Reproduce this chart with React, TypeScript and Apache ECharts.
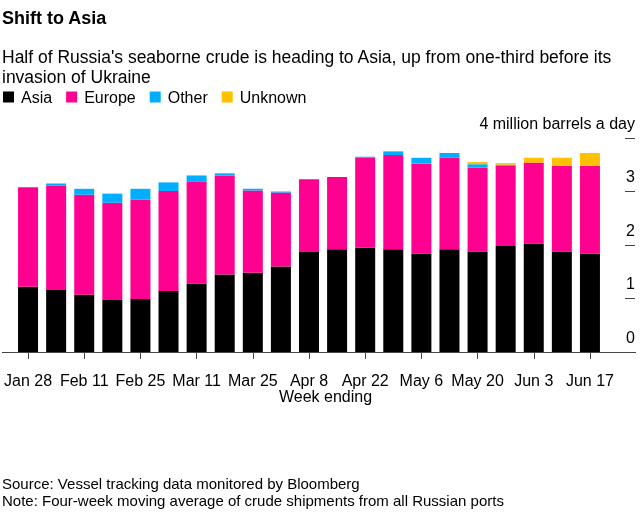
import React, { useEffect, useRef } from "react";
import * as echarts from "echarts";

const weeks = [
  "Jan 28", "Feb 4", "Feb 11", "Feb 18", "Feb 25", "Mar 4", "Mar 11", "Mar 18",
  "Mar 25", "Apr 1", "Apr 8", "Apr 15", "Apr 22", "Apr 29", "May 6", "May 13",
  "May 20", "May 27", "Jun 3", "Jun 10", "Jun 17",
];
const asia = [1.22, 1.16, 1.07, 0.97, 0.99, 1.14, 1.28, 1.45, 1.48, 1.6, 1.87, 1.92, 1.95, 1.92, 1.84, 1.92, 1.88, 1.98, 2.03, 1.88, 1.84];
const europe = [1.86, 1.95, 1.87, 1.82, 1.86, 1.87, 1.9, 1.85, 1.54, 1.38, 1.36, 1.35, 1.68, 1.76, 1.68, 1.71, 1.57, 1.5, 1.51, 1.6, 1.64];
const other = [0, 0.04, 0.11, 0.17, 0.2, 0.16, 0.12, 0.04, 0.03, 0.02, 0, 0, 0.02, 0.07, 0.11, 0.09, 0.06, 0.02, 0, 0, 0];
const unknown = [0, 0, 0, 0, 0, 0, 0, 0, 0, 0, 0, 0, 0, 0, 0, 0, 0.04, 0.03, 0.09, 0.15, 0.24];
const yUnitLabel = "4 million barrels a day";

const FONT = "'Liberation Sans', Arial, sans-serif";

export default function App() {
  const ref = useRef<HTMLDivElement>(null);
  useEffect(() => {
    if (!ref.current) return;
    const chart = echarts.init(ref.current, null, { renderer: "svg" });
    const mk = (name: string, data: number[], color: string) => ({
      name,
      type: "bar",
      stack: "total",
      data,
      barWidth: 20,
      itemStyle: { color },
      emphasis: { disabled: true },
    });
    chart.setOption({
      animation: false,
      textStyle: { fontFamily: FONT },
      title: [
        { text: "Shift to Asia", left: 2, top: 9, padding: 0, textStyle: { fontFamily: FONT, fontSize: 18, fontWeight: "bold", color: "#000" } },
        {
          text: "Half of Russia's seaborne crude is heading to Asia, up from one-third before its\ninvasion of Ukraine",
          left: 2, top: 47, padding: 0,
          textStyle: { fontFamily: FONT, fontSize: 17.5, fontWeight: "normal", color: "#000", lineHeight: 20 },
        },
        {
          text: "Source: Vessel tracking data monitored by Bloomberg\nNote: Four-week moving average of crude shipments from all Russian ports",
          left: 2, top: 475, padding: 0,
          textStyle: { fontFamily: FONT, fontSize: 15, fontWeight: "normal", color: "#000", lineHeight: 17 },
        },
      ],
      legend: {
        left: 3, top: 89, padding: 0,
        icon: "rect", itemWidth: 11, itemHeight: 11, itemGap: 14,
        textStyle: { fontFamily: FONT, fontSize: 16, color: "#000", padding: [0, 0, 0, 2] },
        selectedMode: false,
        data: ["Asia", "Europe", "Other", "Unknown"],
      },
      grid: { left: 14, right: 36, top: 138, bottom: 166, containLabel: false },
      xAxis: {
        type: "category",
        data: weeks,
        boundaryGap: true,
        axisLine: { show: false },
        axisTick: { show: true, interval: 1, alignWithLabel: true, length: 7, lineStyle: { color: "#444" } },
        axisLabel: { interval: 1, color: "#000", fontSize: 16, margin: 20, fontFamily: FONT },
      },
      yAxis: {
        type: "value",
        position: "right",
        offset: 21,
        min: 0,
        max: 4,
        interval: 1,
        splitLine: { show: false },
        axisLine: { show: false },
        axisTick: { show: true, inside: false, length: 10, lineStyle: { color: "#444" } },
        axisLabel: {
          color: "#000",
          fontSize: 16,
          fontFamily: FONT,
          align: "right",
          verticalAlign: "bottom",
          margin: 10,
          padding: [0, 0, 7, 0],
          formatter: (v: number) => (v === 4 ? yUnitLabel : String(v)),
        },
      },
      graphic: [
        { type: "line", shape: { x1: 2, y1: 352.5, x2: 636, y2: 352.5 }, style: { stroke: "#444", lineWidth: 1 }, z: 10 },
        { type: "text", left: 279, top: 388, style: { text: "Week ending", fill: "#000", font: `16px ${FONT}` } },
      ],
      series: [
        mk("Asia", asia, "#000000"),
        mk("Europe", europe, "#FF0090"),
        mk("Other", other, "#00AEFF"),
        mk("Unknown", unknown, "#FFC000"),
      ],
    });
    return () => chart.dispose();
  }, []);
  return <div ref={ref} style={{ position: "fixed", left: 0, top: 0, width: 640, height: 518 }} />;
}
